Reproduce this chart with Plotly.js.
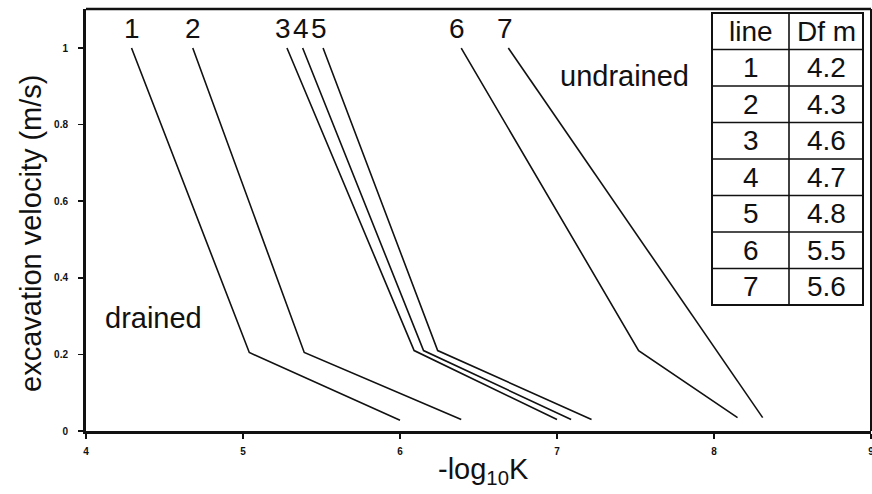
<!DOCTYPE html>
<html>
<head>
<meta charset="utf-8">
<script src="https://cdn.plot.ly/plotly-3.0.1.min.js"></script>
<style>
  html, body { margin: 0; padding: 0; background: #fff; }
  #chart { width: 872px; height: 494px; }
</style>
</head>
<body>
<div id="chart"></div>
<script>
// ---- data ----
const lineIds  = ['1', '2', '3', '4', '5', '6', '7'];
const dfValues = ['4.2', '4.3', '4.6', '4.7', '4.8', '5.5', '5.6'];
// each line: start (top), knee (~0.2 m/s), end (near 0)
const xTop  = [4.29, 4.68, 5.28, 5.38, 5.51, 6.39, 6.69];
const yTop  = [1.0, 1.0, 1.0, 1.0, 1.0, 1.0, 1.0];
const xKnee = [5.04, 5.39, 6.09, 6.15, 6.24, 7.52, null];   // line 7 has no knee
const yKnee = [0.205, 0.205, 0.21, 0.21, 0.21, 0.21, null];
const xEnd  = [6.00, 6.39, 7.00, 7.09, 7.22, 8.15, 8.31];
const yEnd  = [0.028, 0.03, 0.03, 0.03, 0.03, 0.035, 0.035];
const xTicks = [4, 5, 6, 7, 8, 9];
const xTickText = ['4', '5', '6', '7', '8', '9'];
const yTicks = [0, 0.2, 0.4, 0.6, 0.8, 1];
const yTickText = ['0', '0.2', '0.4', '0.6', '0.8', '1'];
const tableHeader = ['line', 'Df m'];

// ---- build ----
const FONT = 'Liberation Sans, Arial, Helvetica, sans-serif';
const INK = '#111';

const traces = lineIds.map((id, i) => {
  const xs = [xTop[i]], ys = [yTop[i]];
  if (xKnee[i] !== null) { xs.push(xKnee[i]); ys.push(yKnee[i]); }
  xs.push(xEnd[i]); ys.push(yEnd[i]);
  return {
    type: 'scatter', mode: 'lines', x: xs, y: ys, name: 'line ' + id,
    line: { color: INK, width: 1.6 }, hoverinfo: 'skip', showlegend: false
  };
});

// plot area pixel geometry (for the table, which is a drawn inset)
const PL = 86, PR = 871, PT = 9, PB = 431;
const px2x = p => (p - PL) / (PR - PL);
const py2y = p => (PB - p) / (PB - PT);

const shapes = [
  // top and right frame
  { type: 'line', xref: 'paper', yref: 'paper', x0: 0, x1: 1, y0: 1, y1: 1, line: { color: INK, width: 2.5 } },
  { type: 'line', xref: 'paper', yref: 'paper', x0: 1, x1: 1, y0: 0, y1: 1, line: { color: INK, width: 2 } }
];
const annotations = [];

// table inset
const TL = 712, TM = 789, TR = 863, TT = 13, TB = 305;
const nRows = lineIds.length + 1;
const rowH = (TB - TT) / nRows;
shapes.push({ type: 'rect', xref: 'paper', yref: 'paper',
  x0: px2x(TL), x1: px2x(TR), y0: py2y(TB), y1: py2y(TT),
  line: { color: INK, width: 2 }, fillcolor: '#fff', layer: 'above' });
shapes.push({ type: 'line', xref: 'paper', yref: 'paper',
  x0: px2x(TM), x1: px2x(TM), y0: py2y(TB), y1: py2y(TT), line: { color: INK, width: 1.6 } });
for (let r = 1; r < nRows; r++) {
  const yy = py2y(TT + r * rowH);
  shapes.push({ type: 'line', xref: 'paper', yref: 'paper',
    x0: px2x(TL), x1: px2x(TR), y0: yy, y1: yy, line: { color: INK, width: 1.6 } });
}
const cellRows = [tableHeader].concat(lineIds.map((id, i) => [id, dfValues[i]]));
cellRows.forEach((row, r) => {
  const yc = py2y(TT + (r + 0.5) * rowH);
  [[row[0], (TL + TM) / 2], [row[1], (TM + TR) / 2]].forEach(([txt, xc]) => {
    annotations.push({ xref: 'paper', yref: 'paper', x: px2x(xc), y: yc,
      text: txt, showarrow: false, xanchor: 'center', yanchor: 'middle',
      font: { family: FONT, size: 28, color: INK } });
  });
});

// line number labels above each line's top
const labelShift = [0, 0, -4, -2, -4, -4, -3];
lineIds.forEach((id, i) => {
  annotations.push({ x: xTop[i], y: yTop[i], xref: 'x', yref: 'y', text: id,
    showarrow: false, xanchor: 'center', yanchor: 'bottom', yshift: 2, xshift: labelShift[i],
    font: { family: FONT, size: 28, color: INK } });
});

// region labels
annotations.push({ x: 4.43, y: 0.295, xref: 'x', yref: 'y', text: 'drained', showarrow: false,
  xanchor: 'center', yanchor: 'middle', font: { family: FONT, size: 29, color: INK } });
annotations.push({ x: 7.43, y: 0.927, xref: 'x', yref: 'y', text: 'undrained', showarrow: false,
  xanchor: 'center', yanchor: 'middle', font: { family: FONT, size: 29, color: INK } });

// axis titles
annotations.push({ xref: 'paper', yref: 'paper', x: 0, y: py2y(233), xshift: -55,
  text: 'excavation velocity (m/s)', textangle: -90, showarrow: false,
  xanchor: 'center', yanchor: 'middle', font: { family: FONT, size: 29, color: INK } });
annotations.push({ xref: 'paper', yref: 'paper', x: px2x(483), y: py2y(471),
  text: '-log<sub>10</sub>K', showarrow: false,
  xanchor: 'center', yanchor: 'middle', font: { family: FONT, size: 29, color: INK } });

const tickFont = { family: FONT, size: 10, color: INK, weight: 'bold' };
const layout = {
  width: 872, height: 494,
  margin: { l: PL, r: 872 - PR, t: PT, b: 494 - PB },
  paper_bgcolor: '#fff', plot_bgcolor: '#fff',
  showlegend: false,
  xaxis: {
    range: [4, 9], tickvals: xTicks, ticktext: xTickText,
    showgrid: false, zeroline: false, showline: true, linecolor: INK, linewidth: 3,
    ticks: 'outside', ticklen: 5, tickwidth: 1.5, tickcolor: INK,
    tickfont: tickFont, ticklabelstandoff: 4, ticklabeloverflow: 'allow', fixedrange: true
  },
  yaxis: {
    range: [0, 1.102], tickvals: yTicks, ticktext: yTickText,
    showgrid: false, zeroline: false, showline: true, linecolor: INK, linewidth: 3,
    ticks: 'outside', ticklen: 5, tickwidth: 1.5, tickcolor: INK,
    tickfont: tickFont, ticklabelstandoff: 8, fixedrange: true
  },
  shapes: shapes,
  annotations: annotations
};

Plotly.newPlot('chart', traces, layout, { displayModeBar: false, staticPlot: true });
</script>
</body>
</html>
